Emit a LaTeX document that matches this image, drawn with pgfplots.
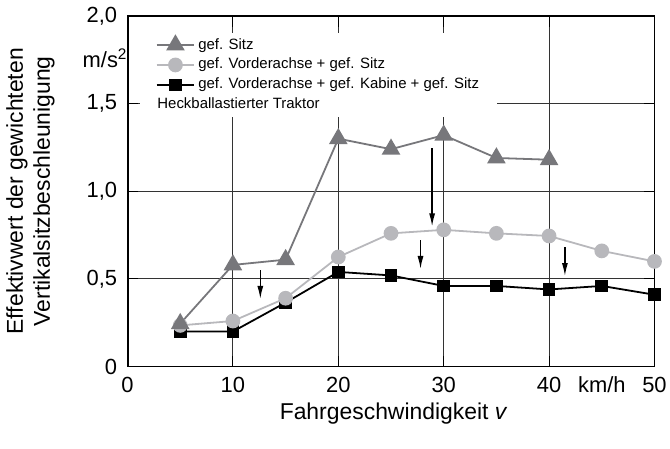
\documentclass[border=0pt]{standalone}
\usepackage{fontspec}
\setmainfont{Liberation Sans}
\usepackage{pgfplots}
\pgfplotsset{compat=1.18}
\usetikzlibrary{arrows.meta}
\definecolor{cTri}{HTML}{77777B}
\definecolor{cCir}{HTML}{B8B8BC}
\begin{document}
\begin{tikzpicture}
\begin{axis}[
  scale only axis, width=529pt, height=352pt,
  xmin=0, xmax=50, ymin=0, ymax=2,
  xtick={0,10,20,30,40,50}, xticklabels={0,10,20,30,40,50},
  ytick={0,0.5,1,1.5,2}, yticklabels={0,{0,5},{1,0},{1,5},{2,0}},
  extra x ticks={45}, extra x tick labels={km/h},
  extra x tick style={grid=none, major tick length=0pt},
  extra y ticks={1.76}, extra y tick labels={m/s\textsuperscript{2}},
  extra y tick style={grid=none, major tick length=0pt, yticklabel style={xshift=10pt}},
  /pgf/number format/assume math mode=true,
  tick label style={font=\fontsize{22}{26}\selectfont},
  xticklabel style={yshift=-7pt},
  yticklabel style={xshift=-7pt},
  label style={font=\fontsize{23}{27}\selectfont},
  xlabel={Fahrgeschwindigkeit \textit{v}},
  xlabel style={at={(axis description cs:0.505,-0.15)}, anchor=base},
  ylabel={Effektivwert der gewichteten\\Vertikalsitzbeschleunigung},
  ylabel style={align=center, at={(axis description cs:-0.138,0.5)}, anchor=south, inner sep=0pt},
  grid=major, grid style={black!80, line width=0.9pt},
  tick align=inside, major tick length=11pt, tick style={black, line width=1pt},
  axis line style={line width=1.3pt},
  legend style={at={(rel axis cs:0,1)}, anchor=north west, xshift=12pt, yshift=-17pt,
    fill=white, draw=none, inner xsep=16pt, inner ysep=2pt,
    font=\fontsize{15}{18}\selectfont, cells={anchor=west},
    nodes={inner xsep=2pt, inner ysep=3pt, text height=11pt, text depth=3pt},
    column sep=1pt},
  legend image code/.code={\draw[mark repeat=2, mark phase=2] plot coordinates {(0pt,0pt) (19pt,0pt) (38pt,0pt)};},
]
% squares (black) drawn first
\addplot[black, line width=1.8pt, mark=square*, mark size=5.5pt, mark options={solid}, forget plot]
  coordinates {(5,0.20) (10,0.20) (15,0.365) (20,0.54) (25,0.52) (30,0.46) (35,0.46) (40,0.44) (45,0.46) (50,0.41)};
\addplot[cCir, line width=1.8pt, mark=*, mark size=6.5pt, forget plot]
  coordinates {(5,0.235) (10,0.26) (15,0.39) (20,0.625) (25,0.76) (30,0.78) (35,0.76) (40,0.745) (45,0.66) (50,0.60)};
\addplot[cTri, line width=1.8pt, mark=triangle*, mark size=9pt, forget plot]
  coordinates {(5,0.245) (10,0.58) (15,0.61) (20,1.30) (25,1.24) (30,1.32) (35,1.19) (40,1.18)};
% arrows
\addplot[black, line width=1.3pt, -{Latex[length=13pt,width=6pt]}, forget plot] coordinates {(12.6,0.55) (12.6,0.386)};
\addplot[black, line width=1.3pt, -{Latex[length=13pt,width=6pt]}, forget plot] coordinates {(28.9,1.244) (28.9,0.80)};
\addplot[black, line width=1.3pt, -{Latex[length=13pt,width=6pt]}, forget plot] coordinates {(27.8,0.72) (27.8,0.557)};
\addplot[black, line width=1.3pt, -{Latex[length=13pt,width=6pt]}, forget plot] coordinates {(41.5,0.68) (41.5,0.517)};
% legend
\addlegendimage{cTri, line width=1.8pt, mark=triangle*, mark size=9pt}
\addlegendentry{gef. Sitz}
\addlegendimage{cCir, line width=1.8pt, mark=*, mark size=6.5pt}
\addlegendentry{gef. Vorderachse + gef. Sitz}
\addlegendimage{black, line width=1.8pt, mark=square*, mark size=5.5pt}
\addlegendentry{gef. Vorderachse + gef. Kabine + gef. Sitz}
\addlegendimage{empty legend}
\addlegendentry{\hspace{-41pt}Heckballastierter Traktor}
\draw[line width=2.2pt] (rel axis cs:0,1) -- (rel axis cs:0,0) -- (rel axis cs:1,0);
\coordinate (bbA) at (rel axis cs:-0.242,-0.233);
\coordinate (bbB) at (rel axis cs:1.0246,1.0455);
\end{axis}
\path (bbA) rectangle (bbB);
\end{tikzpicture}
\end{document}
